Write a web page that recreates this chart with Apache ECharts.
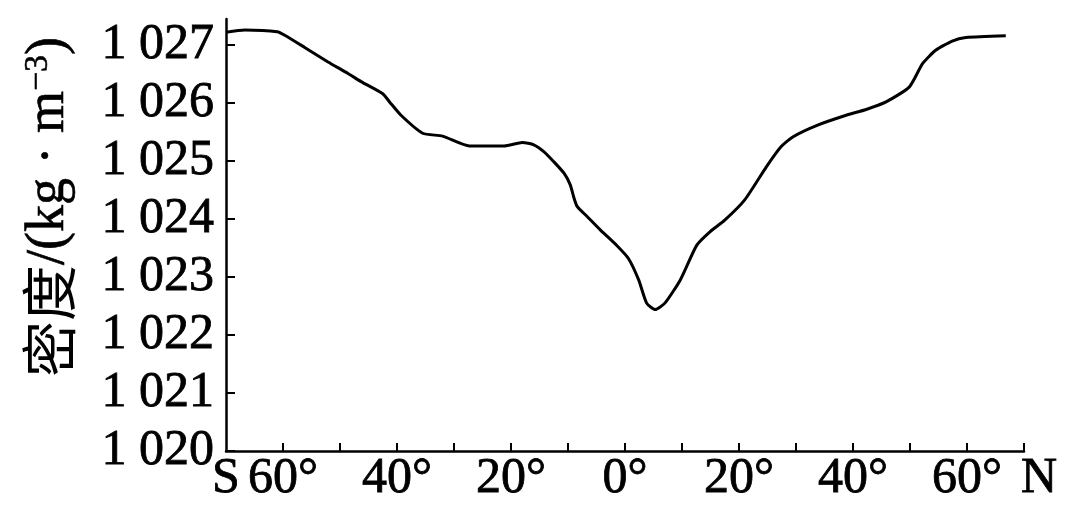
<!DOCTYPE html>
<html>
<head>
<meta charset="utf-8">
<script src="https://cdn.jsdelivr.net/npm/echarts@6/dist/echarts.min.js"></script>
<style>
  html, body { margin: 0; padding: 0; background: #fff; }
  #chart { width: 1080px; height: 517px; }
</style>
</head>
<body>
<div id="chart"></div>
<script>
// latitude (negative = south) and density
var latitude = [-70, -66.7, -61, -59.7, -56.2, -52.1, -48.6, -46.3, -42.5, -41.3, -39.3, -35.5, -32, -27.3,
  -21.2, -18, -16.0, -14.2, -12.5, -10.7, -9.6, -9.0, -8.4, -6.6, -4.3, -1.4, 0.6, 2.4, 3.8, 5.3, 7.0,
  9.7, 12.6, 14.9, 17.5, 21, 24.8, 27.4, 29.5, 33.8, 38.8, 42.3, 45.8, 49.9, 52.2, 54.5, 57.4, 59.8, 66.8];
var density = [1027.22, 1027.26, 1027.23, 1027.17, 1026.96, 1026.71, 1026.51, 1026.37, 1026.16, 1026.02,
  1025.79, 1025.48, 1025.43, 1025.26, 1025.26, 1025.32, 1025.28, 1025.16, 1024.99, 1024.79, 1024.59,
  1024.38, 1024.22, 1024.04, 1023.81, 1023.54, 1023.32, 1022.95, 1022.55, 1022.44, 1022.55, 1022.95,
  1023.55, 1023.78, 1023.98, 1024.33, 1024.9, 1025.25, 1025.42, 1025.62, 1025.79, 1025.89, 1026.02,
  1026.28, 1026.68, 1026.91, 1027.07, 1027.13, 1027.16];

var yTicks = [1020, 1021, 1022, 1023, 1024, 1025, 1026, 1027];
var xTicks = [-60, -50, -40, -30, -20, -10, 0, 10, 20, 30, 40, 50, 60, 70];
var xLabels = [-70, -60, -40, -20, 0, 20, 40, 60, 70];

var serif = '"Liberation Serif", "DejaVu Serif", "Noto Sans CJK SC", serif';

var myChart = echarts.init(document.getElementById('chart'));
var points = [];
for (var i = 0; i < latitude.length; i++) {
  points.push([latitude[i], density[i]]);
}

myChart.setOption({
  animation: false,
  backgroundColor: '#fff',
  grid: { left: 226, right: 56, top: 19, bottom: 66 },
  xAxis: {
    type: 'value',
    min: -70,
    max: 70,
    interval: 10,
    splitLine: { show: false },
    axisLine: { onZero: false, lineStyle: { color: '#000', width: 2.5 } },
    axisTick: {
      inside: true, length: 8,
      lineStyle: { color: '#000', width: 2 },
      customValues: xTicks
    },
    axisLabel: {
      customValues: xLabels,
      margin: 3,
      color: '#000',
      fontFamily: serif,
      fontSize: 50,
      textBorderColor: '#000',
      textBorderWidth: 0.8,
      formatter: function (v) {
        if (v === -70) return 'S';
        if (v === 70) return '{n|N}';
        return Math.abs(v) + '°';
      },
      rich: {
        n: {
          fontFamily: serif, fontSize: 50, color: '#000',
          textBorderColor: '#000', textBorderWidth: 0.8,
          padding: [0, 0, 0, 30]
        }
      }
    }
  },
  yAxis: {
    type: 'value',
    min: 1020,
    max: 1027.45,
    interval: 1,
    splitLine: { show: false },
    axisLine: { onZero: false, lineStyle: { color: '#000', width: 2.5 } },
    axisTick: {
      inside: true, length: 9,
      lineStyle: { color: '#000', width: 2 },
      customValues: yTicks
    },
    axisLabel: {
      customValues: yTicks,
      margin: 12,
      color: '#000',
      fontFamily: serif,
      fontSize: 50,
      textBorderColor: '#000',
      textBorderWidth: 0.8,
      formatter: function (v) {
        var s = String(v);
        return s.charAt(0) + ' ' + s.slice(1);
      }
    },
    name: '{c|密度}{a|/(kg · m}{s|−3}{a|)}',
    nameLocation: 'middle',
    nameGap: 149,
    nameTextStyle: {
      padding: [0, 0, 0, 56],
      rich: {
        c: { fontFamily: '"Noto Sans CJK SC", serif', fontSize: 56, color: '#000' },
        a: { fontFamily: serif, fontSize: 54, color: '#000', textBorderColor: '#000', textBorderWidth: 0.6 },
        s: { fontFamily: serif, fontSize: 34, color: '#000', verticalAlign: 'top', textBorderColor: '#000', textBorderWidth: 0.5 }
      }
    }
  },
  series: [{
    type: 'line',
    data: points,
    smooth: 0.2,
    showSymbol: false,
    lineStyle: { color: '#000', width: 3 }
  }]
});
</script>
</body>
</html>
